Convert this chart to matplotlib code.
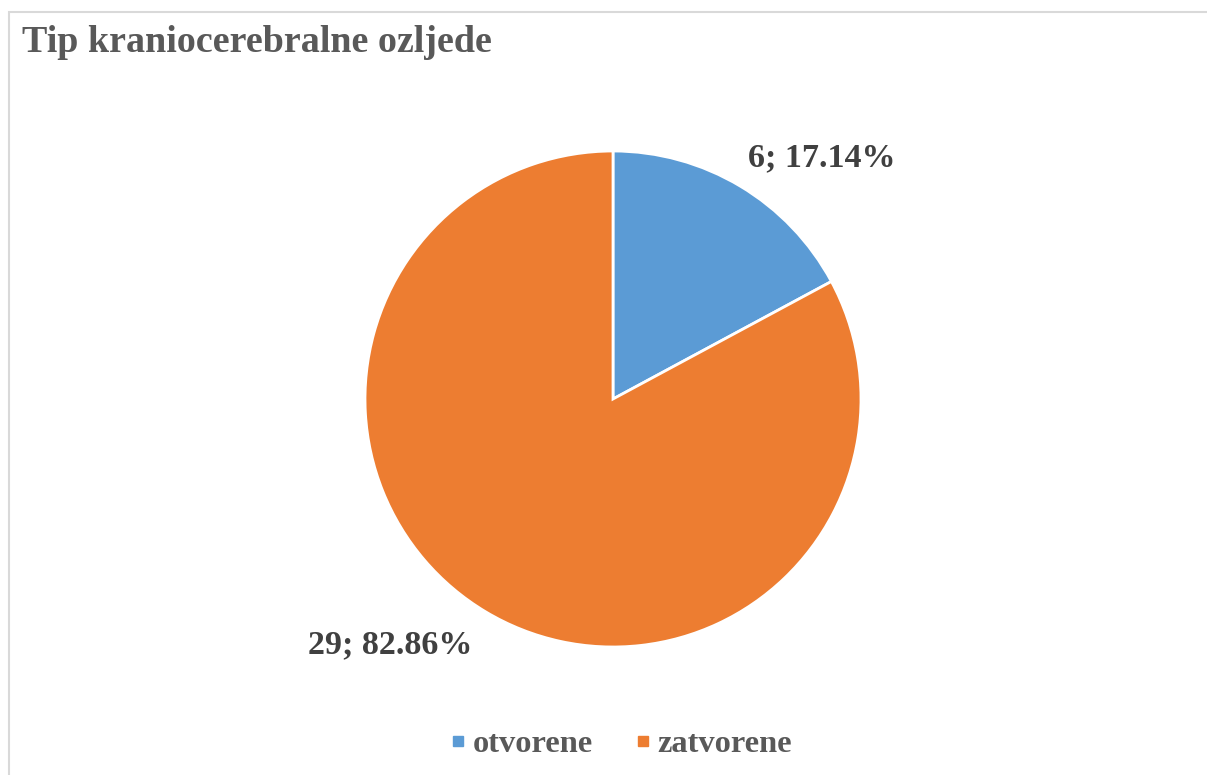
import matplotlib.pyplot as plt
from matplotlib.lines import Line2D
from matplotlib.patches import Rectangle

categories = ['otvorene', 'zatvorene']
counts = [6, 29]
colors = ['#5B9BD5', '#ED7D31']
title = 'Tip kraniocerebralne ozljede'

plt.rcParams['font.family'] = ['Liberation Serif', 'DejaVu Serif']

W, H = 1207, 775
fig = plt.figure(figsize=(W / 100, H / 100), dpi=100)

# chart border (light grey), runs off right/bottom edge
fig.patches.append(Rectangle((9 / W, -0.1), 1.2, 1 - 12 / H + 0.1,
                             transform=fig.transFigure, fill=False,
                             edgecolor='#d9d9d9', linewidth=1.5))

fig.text(22 / W, 1 - 43 / H, title, fontsize=27.4, fontweight='bold',
         color='#595959', ha='left', va='center')

cx, cy, r = 613, 399, 248
ax = fig.add_axes([(cx - r) / W, (H - cy - r) / H, 2 * r / W, 2 * r / H])
wedges, _ = ax.pie(counts, colors=colors, startangle=90, counterclock=False,
                   wedgeprops=dict(edgecolor='white', linewidth=2))
ax.set_xlim(-1, 1)
ax.set_ylim(-1, 1)
ax.set_aspect('equal')
ax.axis('off')

total = sum(counts)
label_pos = [(822, 158), (390, 645)]
for c, (px, py) in zip(counts, label_pos):
    fig.text(px / W, 1 - py / H, f'{c}; {c / total * 100:.2f}%',
             fontsize=24.5, fontweight='bold', color='#404040',
             ha='center', va='center')

handles = [Line2D([], [], linestyle='none', marker='s', markersize=7.5,
                  markerfacecolor=col, markeredgecolor=col) for col in colors]
fig.legend(handles, categories, loc='center', ncol=2, frameon=False,
           bbox_to_anchor=(620 / W, 1 - 744 / H), handlelength=0.6,
           handletextpad=0.15, columnspacing=1.25,
           prop=dict(size=23.3, weight='bold'), labelcolor='#595959')

fig.savefig('out.png', dpi=100)
